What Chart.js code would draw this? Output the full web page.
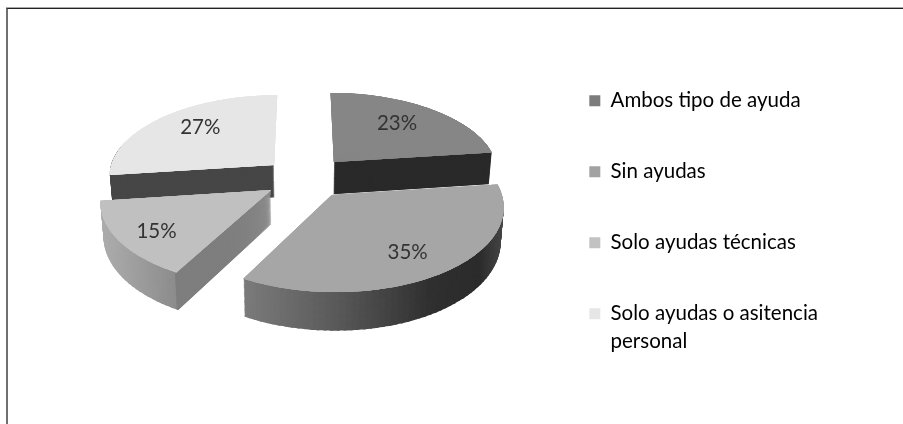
<!DOCTYPE html>
<html><head><meta charset="utf-8">
<style>
html,body{margin:0;padding:0;background:#fff;width:903px;height:424px;overflow:hidden}
#frame{position:absolute;left:6px;top:8px;width:897px;height:416px;border-top:1px solid #222;border-left:2px solid #707070;box-sizing:border-box}
#frameTop{position:absolute;left:6px;top:7px;width:897px;height:1px;background:#a8a8a8}
canvas{position:absolute;left:0;top:0;filter:blur(0.7px)}
</style>
<script src="https://cdn.jsdelivr.net/npm/chart.js@4/dist/chart.umd.min.js"></script>
</head><body>
<canvas id="c" width="903" height="424"></canvas>
<div id="frameTop"></div><div id="frame"></div>
<script>
const categories = ["Ambos tipo de ayuda","Sin ayudas","Solo ayudas técnicas",["Solo ayudas o asitencia","personal"]];
const values = [23,35,15,27];
const topColors = ["#868686","#a6a6a6","#c0c0c0","#e6e6e6"];
const legendColors = ["#7c7c7c","#a2a2a2","#c2c2c2","#e6e6e6"];

// view model for the tilted, exploded pie
const view = {cx:303, cy:178, rx:166, ry:81, k:0.12, depth:33, taper:0.015};
const explode = [[0.19,-0.202],[0.169,0.205],[-0.188,0.146],[-0.177,-0.164]];
const drawOrder = [0,3,1,2];
// shading of the outer wall by screen x, and the visible cut face: side, colour, wedge width in degrees
const wallStops = [
  [[300,"#2a2a2a"],[500,"#2a2a2a"]],
  [[242,"#7c7c7c"],[340,"#585858"],[430,"#303030"],[480,"#2c2c2c"],[505,"#4a4a4a"]],
  [[100,"#aeaeae"],[180,"#8a8a8a"]],
  [[110,"#474747"],[280,"#474747"]]
];
const cutFaces = [[1,"#2a2a2a",50],null,[0,"#7e7e7e",0.6],[0,"#474747",50]];
const labelPos = [[0.426,-0.53],[0.399,0.62],[-0.63,0.46],[-0.492,-0.51]];

function hex(c){return [1,3,5].map(i=>parseInt(c.substr(i,2),16));}
function wallColor(stops,x){
  if(x<=stops[0][0])return stops[0][1];
  for(let i=1;i<stops.length;i++){
    if(x<=stops[i][0]){
      const t=(x-stops[i-1][0])/(stops[i][0]-stops[i-1][0]);
      const a=hex(stops[i-1][1]),b=hex(stops[i][1]);
      return "rgb("+a.map((v,j)=>Math.round(v+(b[j]-v)*t)).join(",")+")";
    }
  }
  return stops[stops.length-1][1];
}
function project(X,Y,Z){
  const s=1/(1-view.k*Y);
  const f=1-view.taper*Z/view.depth;
  return [view.cx+view.rx*X*s*f, view.cy+view.ry*Y*s+Z*s];
}
function drawPiece(ctx,el,off,b0,b1,Z,color){
  const c0=Math.cos(b0),s0=Math.sin(b0),c1=Math.cos(b1),s1=Math.sin(b1);
  const P=project(off[0],off[1],Z);
  const A=project(off[0]+c0,off[1]+s0,Z);
  const B=project(off[0]+c1,off[1]+s1,Z);
  const det=c0*s1-c1*s0;
  if(Math.abs(det)<1e-6)return;
  const ax=A[0]-P[0],ay=A[1]-P[1],bx=B[0]-P[0],by=B[1]-P[1];
  const m11=(ax*s1-bx*s0)/det,m12=(bx*c0-ax*c1)/det;
  const m21=(ay*s1-by*s0)/det,m22=(by*c0-ay*c1)/det;
  const r=el.outerRadius;
  const saved={s:el.startAngle,e:el.endAngle,c:el.circumference,o:el.options};
  el.startAngle=b0;el.endAngle=b1;el.circumference=b1-b0;
  el.options={backgroundColor:color,borderColor:color,borderWidth:0,borderAlign:"center",borderRadius:0,borderJoinStyle:"round",borderDash:[],borderDashOffset:0,spacing:0,offset:0,circular:true,selfJoin:false};
  ctx.save();
  ctx.transform(m11/r,m21/r,m12/r,m22/r,P[0],P[1]);
  ctx.translate(-el.x,-el.y);
  el.draw(ctx);
  ctx.restore();
  el.startAngle=saved.s;el.endAngle=saved.e;el.circumference=saved.c;el.options=saved.o;
}
const DEG=Math.PI/180, LAP=0.7*DEG;
function sweep(a0,a1,step,fn){
  const n=Math.max(1,Math.ceil((a1-a0)/step));
  for(let j=0;j<n;j++){
    const b0=a0+(a1-a0)*j/n, b1=Math.min(a1,a0+(a1-a0)*(j+1)/n+LAP);
    fn(b0,b1);
  }
}
const pie3d={
  id:"pie3d",
  beforeDatasetsDraw(chart){
    const ctx=chart.ctx, arcs=chart.getDatasetMeta(0).data;
    drawOrder.forEach(i=>{
      const el=arcs[i], off=explode[i], a0=el.startAngle, a1=el.endAngle;
      // outer wall: only the part of the rim that faces the viewer
      for(let Z=view.depth;Z>0;Z-=1){
        sweep(a0,a1,2*DEG,(b0,b1)=>{
          const m=(b0+b1)/2;
          if(Math.sin(m)<-0.1)return;
          const x=project(off[0]+Math.cos(m),off[1]+Math.sin(m),Z)[0];
          drawPiece(ctx,el,off,b0,b1,Z,wallColor(wallStops[i],x));
        });
      }
      // visible cut face
      const cut=cutFaces[i];
      if(cut){
        const w=cut[2]*DEG;
        for(let Z=view.depth;Z>0;Z-=0.5){
          if(cut[0]===1) drawPiece(ctx,el,off,a1-w,a1,Z,cut[1]);
          else drawPiece(ctx,el,off,a0,a0+w,Z,cut[1]);
        }
      }
      // top face: a coarse pass first so thin wedges near the apex leave no seams
      [25,10,4,4].forEach(d=>sweep(a0,a1,d*DEG,(b0,b1)=>drawPiece(ctx,el,off,b0,b1,0,topColors[i])));
    });
    // percentage labels
    ctx.save();
    ctx.font='20.5px Lato';ctx.fillStyle="#333333";ctx.textAlign="center";ctx.textBaseline="middle";
    values.forEach((v,i)=>{
      const p=project(explode[i][0]+labelPos[i][0],explode[i][1]+labelPos[i][1],0);
      ctx.fillText(v+"%",p[0],p[1]);
    });
    ctx.restore();
    return false;
  }
};
new Chart(document.getElementById("c"),{
  type:"pie",
  data:{labels:categories,datasets:[{data:values,backgroundColor:topColors,borderWidth:0}]},
  options:{
    responsive:false,animation:false,
    layout:{padding:{top:40,right:75,bottom:0,left:0}},
    plugins:{
      tooltip:{enabled:false},
      legend:{
        position:"right",align:"start",
        labels:{
          boxWidth:11,boxHeight:11,padding:50.5,color:"#3f3f3f",
          font:{family:"Lato",size:20.5,lineHeight:"28px"},
          generateLabels(){return categories.map((t,i)=>({text:t,fillStyle:legendColors[i],strokeStyle:legendColors[i],lineWidth:0,hidden:false,index:i}));}
        }
      }
    }
  },
  plugins:[pie3d]
});
</script>
</body></html>
